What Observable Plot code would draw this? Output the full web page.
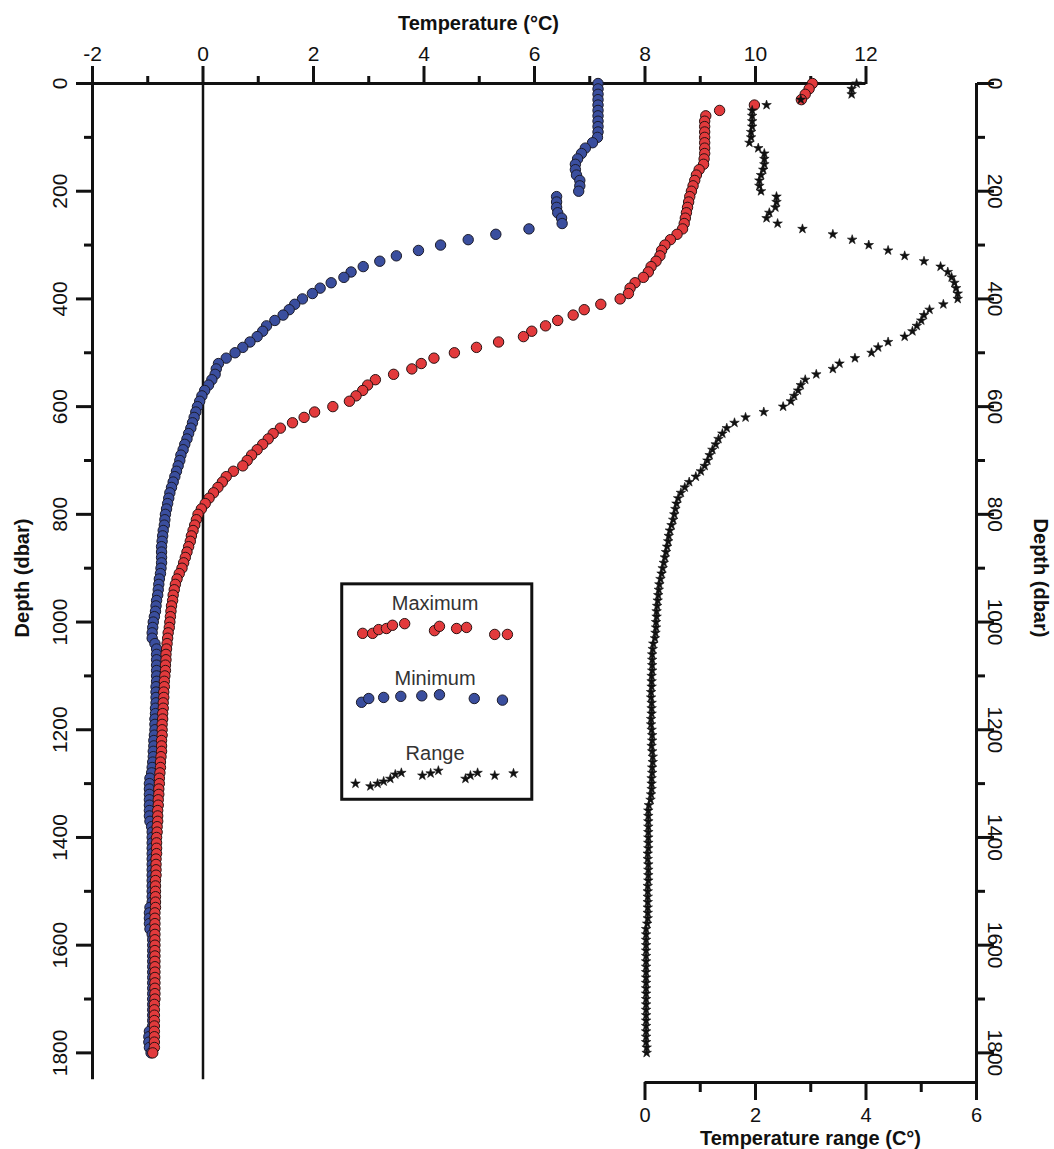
<!DOCTYPE html>
<html><head><meta charset="utf-8">
<script src="https://cdn.jsdelivr.net/npm/d3@7"></script>
<script src="https://cdn.jsdelivr.net/npm/@observablehq/plot@0.6"></script>
<style>
html,body{margin:0;padding:0;background:#fff;}
#chart svg{display:block;}
</style>
</head><body><div id="chart"></div>
<script>
// ---------------- data ----------------
const depth = [0,10,20,30,40,50,60,70,80,90,
100,110,120,130,140,150,160,170,180,190,
200,210,220,230,240,250,260,270,280,290,
300,310,320,330,340,350,360,370,380,390,
400,410,420,430,440,450,460,470,480,490,
500,510,520,530,540,550,560,570,580,590,
600,610,620,630,640,650,660,670,680,690,
700,710,720,730,740,750,760,770,780,790,
800,810,820,830,840,850,860,870,880,890,
900,910,920,930,940,950,960,970,980,990,
1000,1010,1020,1030,1040,1050,1060,1070,1080,1090,
1100,1110,1120,1130,1140,1150,1160,1170,1180,1190,
1200,1210,1220,1230,1240,1250,1260,1270,1280,1290,
1300,1310,1320,1330,1340,1350,1360,1370,1380,1390,
1400,1410,1420,1430,1440,1450,1460,1470,1480,1490,
1500,1510,1520,1530,1540,1550,1560,1570,1580,1590,
1600,1610,1620,1630,1640,1650,1660,1670,1680,1690,
1700,1710,1720,1730,1740,1750,1760,1770,1780,1790,
1800];

const maxTemp = [11.03,10.97,10.90,10.83,9.98,9.35,9.10,9.08,9.08,9.08,
9.08,9.08,9.08,9.08,9.07,9.06,8.98,8.93,8.90,8.87,
8.84,8.81,8.79,8.77,8.75,8.73,8.71,8.68,8.58,8.46,
8.36,8.30,8.27,8.20,8.11,8.06,7.97,7.82,7.73,7.70,
7.55,7.20,6.90,6.70,6.42,6.20,5.95,5.80,5.35,4.95,
4.55,4.18,3.95,3.78,3.45,3.12,2.98,2.89,2.77,2.65,
2.35,2.02,1.83,1.62,1.40,1.27,1.18,1.08,0.98,0.88,
0.80,0.72,0.55,0.42,0.35,0.27,0.19,0.11,0.04,-0.03,
-0.09,-0.12,-0.15,-0.18,-0.21,-0.23,-0.26,-0.29,-0.32,-0.35,
-0.38,-0.43,-0.47,-0.50,-0.52,-0.54,-0.55,-0.57,-0.58,-0.59,
-0.60,-0.61,-0.63,-0.64,-0.65,-0.66,-0.67,-0.67,-0.68,-0.68,
-0.69,-0.70,-0.70,-0.71,-0.71,-0.72,-0.72,-0.73,-0.73,-0.74,
-0.74,-0.74,-0.75,-0.75,-0.75,-0.76,-0.77,-0.77,-0.78,-0.79,
-0.79,-0.80,-0.80,-0.81,-0.81,-0.82,-0.82,-0.82,-0.83,-0.83,
-0.84,-0.84,-0.84,-0.84,-0.85,-0.85,-0.85,-0.85,-0.86,-0.86,
-0.86,-0.86,-0.86,-0.86,-0.87,-0.87,-0.87,-0.87,-0.87,-0.87,
-0.87,-0.87,-0.87,-0.87,-0.87,-0.87,-0.87,-0.87,-0.87,-0.87,
-0.87,-0.88,-0.88,-0.88,-0.88,-0.88,-0.88,-0.88,-0.88,-0.88,
-0.91];

const minTemp = [7.15,7.15,7.15,7.15,7.15,7.15,7.15,7.15,7.15,7.15,
7.14,7.05,6.92,6.85,6.78,6.74,6.74,6.76,6.82,6.82,
6.80,6.40,6.40,6.40,6.42,6.49,6.50,5.90,5.30,4.80,
4.30,3.90,3.50,3.20,2.90,2.68,2.55,2.32,2.12,1.98,
1.80,1.66,1.56,1.45,1.30,1.15,1.08,0.98,0.85,0.72,
0.58,0.42,0.28,0.24,0.22,0.16,0.10,0.03,-0.02,-0.06,
-0.10,-0.13,-0.16,-0.19,-0.22,-0.26,-0.29,-0.33,-0.36,-0.40,
-0.42,-0.45,-0.48,-0.51,-0.54,-0.57,-0.60,-0.62,-0.64,-0.66,
-0.68,-0.69,-0.70,-0.72,-0.73,-0.74,-0.75,-0.75,-0.75,-0.75,
-0.76,-0.77,-0.79,-0.80,-0.81,-0.82,-0.84,-0.85,-0.86,-0.88,
-0.90,-0.91,-0.92,-0.92,-0.87,-0.84,-0.84,-0.84,-0.84,-0.84,
-0.84,-0.84,-0.85,-0.85,-0.85,-0.85,-0.86,-0.86,-0.87,-0.87,
-0.87,-0.88,-0.89,-0.89,-0.90,-0.90,-0.91,-0.92,-0.93,-0.96,
-0.97,-0.97,-0.97,-0.97,-0.97,-0.97,-0.97,-0.96,-0.93,-0.92,
-0.92,-0.92,-0.92,-0.92,-0.92,-0.92,-0.92,-0.92,-0.92,-0.92,
-0.92,-0.92,-0.92,-0.96,-0.97,-0.97,-0.97,-0.96,-0.92,-0.91,
-0.91,-0.91,-0.91,-0.91,-0.91,-0.91,-0.91,-0.91,-0.91,-0.91,
-0.91,-0.91,-0.91,-0.91,-0.91,-0.91,-0.97,-0.98,-0.98,-0.97,
-0.94];

const tempRange = [3.83,3.74,3.74,2.82,2.20,1.94,1.94,1.94,1.94,1.92,
1.92,1.89,2.05,2.16,2.16,2.16,2.14,2.10,2.07,2.07,
2.10,2.38,2.38,2.36,2.25,2.20,2.40,2.85,3.40,3.75,
4.05,4.40,4.70,5.05,5.35,5.48,5.55,5.60,5.63,5.66,
5.66,5.40,5.15,5.05,5.00,4.92,4.84,4.70,4.40,4.22,
4.10,3.80,3.52,3.40,3.10,2.90,2.82,2.77,2.70,2.64,
2.50,2.15,1.82,1.62,1.48,1.40,1.33,1.28,1.22,1.17,
1.13,1.08,1.01,0.92,0.80,0.72,0.65,0.60,0.57,0.55,
0.53,0.51,0.48,0.45,0.43,0.42,0.40,0.38,0.36,0.34,
0.32,0.30,0.28,0.26,0.25,0.24,0.23,0.22,0.21,0.21,
0.20,0.20,0.19,0.18,0.15,0.14,0.13,0.13,0.13,0.13,
0.12,0.12,0.12,0.11,0.11,0.12,0.12,0.12,0.11,0.11,
0.12,0.13,0.13,0.12,0.13,0.14,0.14,0.13,0.13,0.12,
0.12,0.12,0.11,0.10,0.07,0.06,0.06,0.06,0.06,0.06,
0.06,0.06,0.06,0.05,0.05,0.06,0.06,0.06,0.06,0.05,
0.05,0.05,0.05,0.05,0.05,0.05,0.04,0.02,0.02,0.02,
0.02,0.02,0.02,0.02,0.02,0.02,0.02,0.02,0.02,0.02,
0.02,0.02,0.02,0.02,0.02,0.02,0.02,0.02,0.02,0.03,
0.03];

// axis ticks
const tempTicks = [-2,0,2,4,6,8,10,12];
const tempMinorTicks = [-1,1,3,5,7,9,11];
const depthTicks = [0,200,400,600,800,1000,1200,1400,1600,1800];
const depthMinorTicks = [100,300,500,700,900,1100,1300,1500,1700];
const rangeTicks = [0,2,4,6];
const rangeMinorTicks = [1,3,5];
// the range axis (bottom) shares the pixel scale of the temperature axis, with 0 aligned to 8 °C
const rangeZeroOnTempAxis = 8;

// legend samples (temperature-axis units, depth units)
const legendLabels = ["Maximum", "Minimum", "Range"];
const legendLabelDepth = [966, 1105, 1244];
const legendLabelTemp = 4.2;
const legendBox = {t1: 2.52, t2: 5.96, d1: 930, d2: 1330};
const legendMaxT = [2.89,3.07,3.18,3.32,3.43,3.65,4.19,4.28,4.59,4.77,5.28,5.51];
const legendMaxD = [1021,1021,1014,1012,1006,1003,1016,1008,1012,1010,1023,1023];
const legendMinT = [2.87,3.00,3.27,3.58,3.96,4.28,4.91,5.42];
const legendMinD = [1149,1142,1140,1138,1137,1135,1142,1145];
const legendRangeT = [2.76,3.03,3.16,3.27,3.39,3.48,3.59,3.97,4.12,4.26,4.75,4.84,4.97,5.28,5.62];
const legendRangeD = [1300,1305,1300,1296,1291,1283,1280,1285,1281,1276,1291,1285,1280,1285,1281];

// ---------------- build ----------------
const rows = depth.map((d, i) => ({depth: d, max: maxTemp[i], min: minTemp[i], range: tempRange[i]}));
const onTempAxis = r => r + rangeZeroOnTempAxis;

const RED = "#e23a3c", BLUE = "#3a4e9e", INK = "#111";
const font = "'Liberation Sans', Arial, Helvetica, sans-serif";
const depthMax = 1855;
const STAR_R = 3.0;

const chart = Plot.plot({
  width: 1054, height: 1149,
  marginTop: 83, marginBottom: 67, marginLeft: 92, marginRight: 78,
  x: {domain: [-2, 14]},
  y: {domain: [0, depthMax], reverse: true},
  style: {fontFamily: font, fontSize: "20px", color: INK, background: "#fff", overflow: "visible"},
  marks: [
    // axis lines and zero line
    Plot.ruleY([0], {x1: -2, x2: 12, stroke: INK, strokeWidth: 3}),
    Plot.ruleX([-2], {y1: 0, y2: 1850, stroke: INK, strokeWidth: 3}),
    Plot.ruleX([0], {y1: 0, y2: 1850, stroke: INK, strokeWidth: 2.5}),
    Plot.ruleX([onTempAxis(6)], {y1: 0, y2: depthMax, stroke: INK, strokeWidth: 3}),
    Plot.ruleY([depthMax], {x1: onTempAxis(0), x2: onTempAxis(6), stroke: INK, strokeWidth: 3}),

    // top temperature axis
    Plot.axisX({anchor: "top", ticks: tempTicks, tickSize: 18, tickPadding: 5, strokeWidth: 3, fontSize: 21, tickFormat: d => String(d), label: null}),
    Plot.axisX({anchor: "top", ticks: tempMinorTicks, tickSize: 8, strokeWidth: 3, tickFormat: () => "", label: null}),
    // bottom range axis
    Plot.axisX({anchor: "bottom", ticks: rangeTicks.map(onTempAxis), tickSize: 18, tickPadding: 7, strokeWidth: 3, fontSize: 20, tickFormat: d => String(d - rangeZeroOnTempAxis), label: null}),
    Plot.axisX({anchor: "bottom", ticks: rangeMinorTicks.map(onTempAxis), tickSize: 10, strokeWidth: 3, tickFormat: () => "", label: null}),
    // left depth axis
    Plot.axisY({anchor: "left", ticks: depthTicks, tickSize: 16, tickPadding: 10, tickRotate: -90, strokeWidth: 3, fontSize: 21, tickFormat: d => String(d), label: null}),
    Plot.axisY({anchor: "left", ticks: depthMinorTicks, tickSize: 8, strokeWidth: 3, tickFormat: () => "", label: null}),
    // right depth axis
    Plot.axisY({anchor: "right", ticks: depthTicks, tickSize: 17, tickPadding: 9, tickRotate: 90, strokeWidth: 3, fontSize: 21, tickFormat: d => String(d), label: null}),
    Plot.axisY({anchor: "right", ticks: depthMinorTicks, tickSize: 8, strokeWidth: 3, tickFormat: () => "", label: null}),

    // axis titles
    Plot.text(["Temperature (°C)"], {text: d => d, frameAnchor: "top", textAnchor: "middle", lineAnchor: "middle", dx: -56, dy: -60, fontWeight: "bold", fontSize: 20}),
    Plot.text(["Temperature range (C°)"], {text: d => d, frameAnchor: "bottom", textAnchor: "middle", lineAnchor: "bottom", dx: 276, dy: 62, fontWeight: "bold", fontSize: 20}),
    Plot.text(["Depth (dbar)"], {text: d => d, frameAnchor: "left", textAnchor: "middle", lineAnchor: "middle", dx: -70, dy: -5, rotate: -90, fontWeight: "bold", fontSize: 20}),
    Plot.text(["Depth (dbar)"], {text: d => d, frameAnchor: "right", textAnchor: "middle", lineAnchor: "middle", dx: 64, dy: -5, rotate: 90, fontWeight: "bold", fontSize: 20}),

    // data
    Plot.dot(rows, {x: "min", y: "depth", r: 5.2, fill: BLUE, stroke: "#1b1b2a", strokeWidth: 1}),
    Plot.dot(rows, {x: "max", y: "depth", r: 5.2, fill: RED, stroke: "#2a1212", strokeWidth: 1}),
    Plot.dot(rows, {x: d => onTempAxis(d.range), y: "depth", r: STAR_R, symbol: "star", fill: INK, stroke: INK, strokeWidth: 0.6}),

    // legend
    Plot.rect([legendBox], {x1: "t1", x2: "t2", y1: "d1", y2: "d2", fill: "#fff", stroke: INK, strokeWidth: 3}),
    Plot.text(legendLabels, {text: d => d, x: legendLabelTemp, y: (d, i) => legendLabelDepth[i], fontSize: 20, fill: "#333"}),
    Plot.dot(legendMaxT, {x: d => d, y: (d, i) => legendMaxD[i], r: 5.2, fill: RED, stroke: "#2a1212", strokeWidth: 1}),
    Plot.dot(legendMinT, {x: d => d, y: (d, i) => legendMinD[i], r: 5.2, fill: BLUE, stroke: "#1b1b2a", strokeWidth: 1}),
    Plot.dot(legendRangeT, {x: d => d, y: (d, i) => legendRangeD[i], r: STAR_R, symbol: "star", fill: INK, stroke: INK, strokeWidth: 0.6})
  ]
});
document.getElementById("chart").append(chart);
</script>
</body></html>
